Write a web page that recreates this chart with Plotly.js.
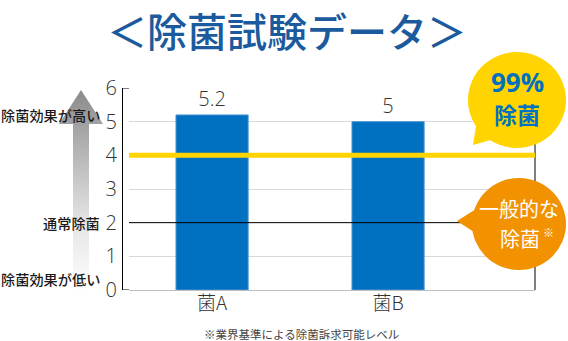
<!DOCTYPE html>
<html>
<head>
<meta charset="utf-8">
<script src="https://cdn.plot.ly/plotly-3.0.1.min.js"></script>
<style>
  html, body { margin: 0; padding: 0; background: #ffffff; }
  #chart { width: 568px; height: 341px; }
</style>
</head>
<body>
<div id="chart"></div>
<script>
// Test results: sterilisation level per bacterium
const categories = ['菌A', '菌B'];
const levels = [5.2, 5];
const yTickVals = [0, 1, 2, 3, 4, 5, 6];
const highLevel = 4;     // 99% 除菌 line
const normalLevel = 2;   // 通常除菌 line

const W = 568, H = 341;
// plot box in pixels
const box = { left: 129, right: 535, top: 88, bottom: 290, axisX: 122 };

const CJK = '"Noto Sans CJK JP", "Noto Sans", sans-serif';
const NUM = '"Open Sans", "Noto Sans", sans-serif';

// gradient arrow outline (pixel space)
const arrowX = [81, 103, 89, 89, 73, 73, 59, 81];
const arrowY = [90, 124, 124, 292, 292, 124, 124, 90];

const traces = [
  {
    type: 'bar',
    x: categories,
    y: levels,
    xaxis: 'x', yaxis: 'y',
    width: 0.41,
    marker: { color: '#0070c0', line: { color: '#4f95d6', width: 1 } },
    text: levels.map(v => String(v)),
    textposition: 'outside',
    cliponaxis: false,
    textfont: { family: NUM, size: 20, color: '#333333', weight: 300 },
    hoverinfo: 'skip'
  },
  {
    type: 'scatter',
    x: arrowX,
    y: arrowY,
    xaxis: 'x2', yaxis: 'y2',
    mode: 'lines',
    line: { width: 0 },
    fill: 'toself',
    fillgradient: {
      type: 'vertical',
      start: 292,
      stop: 90,
      colorscale: [[0, '#ffffff'], [0.35, '#e4e4e4'], [1, '#8a8a8a']]
    },
    hoverinfo: 'skip'
  }
];

const shapes = [
  // right frame line
  { type: 'line', xref: 'x domain', yref: 'y domain', x0: 1, x1: 1, y0: 0, y1: 1,
    line: { color: '#000000', width: 1 }, layer: 'above' },
  // small ticks at top and bottom of the left axis
  { type: 'line', xref: 'paper', yref: 'y', x0: box.axisX / W, x1: box.left / W, y0: 6, y1: 6,
    line: { color: '#000000', width: 1 } },
  { type: 'line', xref: 'paper', yref: 'y', x0: box.axisX / W, x1: box.left / W, y0: 0, y1: 0,
    line: { color: '#000000', width: 1 } },
  // normal level line
  { type: 'line', xref: 'x domain', yref: 'y', x0: 0, x1: 1, y0: normalLevel, y1: normalLevel,
    line: { color: '#000000', width: 1 }, layer: 'above' },
  // 99% level line
  { type: 'line', xref: 'x domain', yref: 'y', x0: 0, x1: 1, y0: highLevel, y1: highLevel,
    line: { color: '#ffd400', width: 5 }, layer: 'above' },
  // yellow speech bubble
  { type: 'path', xref: 'x2', yref: 'y2', path: 'M 476 126 L 473 145 L 494 139 Z',
    fillcolor: '#ffd400', line: { width: 0 }, layer: 'above' },
  { type: 'circle', xref: 'x2', yref: 'y2', x0: 468, x1: 566, y0: 52, y1: 148,
    fillcolor: '#ffd400', line: { width: 0 }, layer: 'above' },
  // orange speech bubble
  { type: 'path', xref: 'x2', yref: 'y2', path: 'M 476 209 L 457 221 L 477 234 Z',
    fillcolor: '#f39200', line: { width: 0 }, layer: 'above' },
  { type: 'circle', xref: 'x2', yref: 'y2', x0: 472, x1: 566, y0: 178, y1: 270,
    fillcolor: '#f39200', line: { width: 0 }, layer: 'above' }
];

const annotations = [
  { text: '＜除菌試験データ＞', xref: 'x2', yref: 'y2', x: 287, y: 30,
    showarrow: false, font: { family: CJK, size: 40, color: '#1b5a9c', weight: 500 } },
  { text: '除菌効果が高い', xref: 'x2', yref: 'y2', x: 102, y: 115, xanchor: 'right',
    showarrow: false, font: { family: CJK, size: 14.2, color: '#1a1a1a', weight: 500 } },
  { text: '通常除菌', xref: 'x2', yref: 'y', x: 102, y: normalLevel, xanchor: 'right',
    showarrow: false, font: { family: CJK, size: 14.2, color: '#1a1a1a', weight: 500 } },
  { text: '除菌効果が低い', xref: 'x2', yref: 'y2', x: 102, y: 279, xanchor: 'right',
    showarrow: false, font: { family: CJK, size: 14.2, color: '#1a1a1a', weight: 500 } },
  { text: '※業界基準による除菌訴求可能レベル', xref: 'x2', yref: 'y2', x: 301, y: 334,
    showarrow: false, font: { family: CJK, size: 11.5, color: '#444444' } },
  { text: '<b>99%</b>', xref: 'x2', yref: 'y2', x: 517, y: 82,
    showarrow: false, font: { family: NUM, size: 26, color: '#0070c0' } },
  { text: '<b>除菌</b>', xref: 'x2', yref: 'y2', x: 517, y: 114,
    showarrow: false, font: { family: CJK, size: 23, color: '#0070c0' } },
  { text: '一般的な', xref: 'x2', yref: 'y2', x: 519, y: 208,
    showarrow: false, font: { family: CJK, size: 20, color: '#ffffff' } },
  { text: '除菌', xref: 'x2', yref: 'y2', x: 520, y: 238,
    showarrow: false, font: { family: CJK, size: 20, color: '#ffffff' } },
  { text: '※', xref: 'x2', yref: 'y2', x: 548, y: 232,
    showarrow: false, font: { family: CJK, size: 11, color: '#ffffff' } }
];

const layout = {
  width: W,
  height: H,
  margin: { l: 0, r: 0, t: 0, b: 0, pad: 0 },
  paper_bgcolor: '#ffffff',
  plot_bgcolor: 'rgba(0,0,0,0)',
  showlegend: false,
  xaxis: {
    domain: [box.left / W, box.right / W],
    anchor: 'y',
    range: [-0.472, 1.835],
    showline: false,
    showgrid: false,
    zeroline: false,
    ticks: '',
    tickfont: { family: CJK, size: 19, color: '#333333', weight: 300 },
    fixedrange: true
  },
  yaxis: {
    domain: [(H - box.bottom) / H, (H - box.top) / H],
    anchor: 'free',
    position: box.axisX / W,
    range: [0, 6],
    tickvals: yTickVals,
    ticktext: yTickVals.map(String),
    showline: true,
    linecolor: '#000000',
    linewidth: 1,
    showgrid: true,
    gridcolor: '#d9d9d9',
    gridwidth: 1,
    zeroline: true,
    zerolinecolor: '#bfbfbf',
    zerolinewidth: 1,
    ticks: '',
    ticklabelstandoff: 1,
    tickfont: { family: NUM, size: 20, color: '#333333', weight: 300 },
    fixedrange: true
  },
  xaxis2: { domain: [0, 1], anchor: 'y2', range: [0, W], visible: false, fixedrange: true },
  yaxis2: { domain: [0, 1], anchor: 'x2', range: [H, 0], visible: false, fixedrange: true },
  shapes: shapes,
  annotations: annotations
};

Plotly.newPlot('chart', traces, layout, { displayModeBar: false, staticPlot: true });
</script>
</body>
</html>
